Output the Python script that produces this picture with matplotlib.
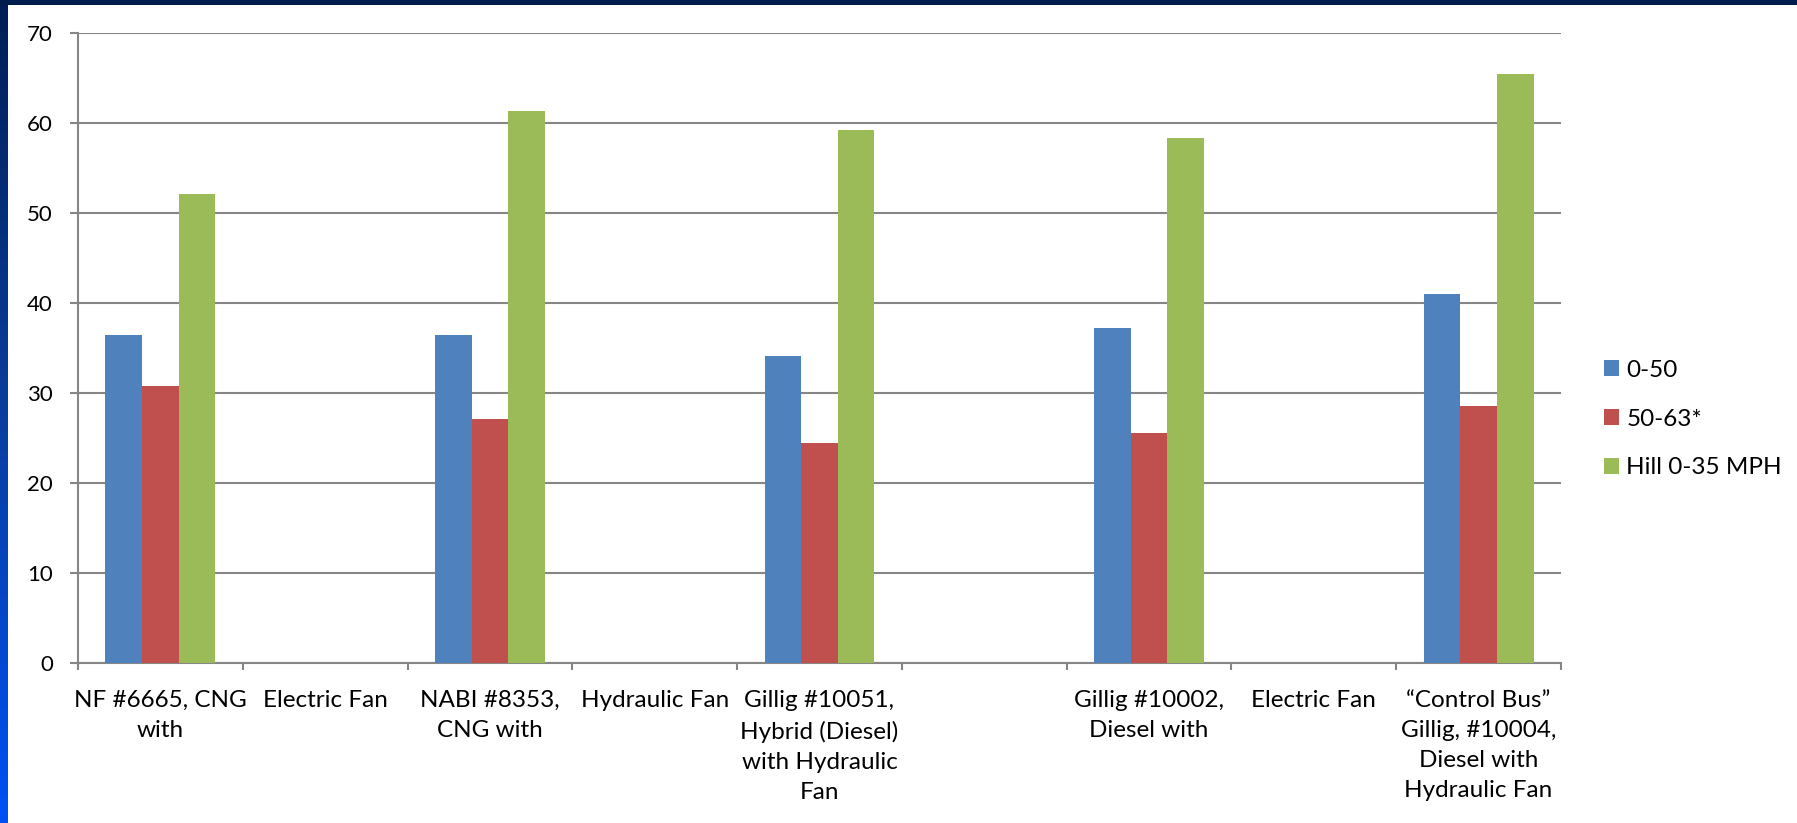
"""
Grouped bar chart: bus acceleration times by speed range for each test bus.
"""

import numpy as np
import matplotlib.pyplot as plt
from matplotlib.patches import Rectangle
from matplotlib.colors import LinearSegmentedColormap

# categories along the x axis (Excel wrapped them, blanks are empty slots)
categories = [
    "NF #6665, CNG\nwith",
    "Electric Fan",
    "NABI #8353,\nCNG with",
    "Hydraulic Fan",
    "Gillig #10051,\nHybrid (Diesel)\nwith Hydraulic\nFan",
    "",
    "Gillig #10002,\nDiesel with",
    "Electric Fan",
    "\u201cControl Bus\u201d\nGillig, #10004,\nDiesel with\nHydraulic Fan",
]

series_names = ["0-50", "50-63*", "Hill 0-35 MPH"]
vals_0_50 = [36.4, np.nan, 36.5, np.nan, 34.1, np.nan, 37.2, np.nan, 41.0]
vals_50_63 = [30.8, np.nan, 27.1, np.nan, 24.4, np.nan, 25.6, np.nan, 28.6]
vals_hill = [52.1, np.nan, 61.3, np.nan, 59.2, np.nan, 58.3, np.nan, 65.5]

colors = ["#4F81BD", "#C0504D", "#9BBB59"]
yticks = [0, 10, 20, 30, 40, 50, 60, 70]

FONT = ["Lato", "DejaVu Sans"]
FS = 17.5
FS_Y = 16
GRID = "#868686"
PX = 72 / 100  # points per pixel at dpi 100

fig = plt.figure(figsize=(17.97, 8.23), dpi=100)
fig.patch.set_facecolor("white")

# slide background: dark top strip and blue gradient strip on the left
fig.patches.append(Rectangle((0, 1 - 5 / 823), 1, 5 / 823, transform=fig.transFigure,
                             facecolor="#001C4C", edgecolor="none", zorder=0))
strip = fig.add_axes([0, 0, 8 / 1797, 1 - 5 / 823])
grad = np.linspace(0, 1, 256).reshape(-1, 1)
cmap = LinearSegmentedColormap.from_list("slide", ["#001E55", "#0A3E9E", "#0050F5"])
strip.imshow(grad, aspect="auto", cmap=cmap, extent=[0, 1, 0, 1], origin="upper")
strip.axis("off")

ax = fig.add_axes([78 / 1797, 1 - 663 / 823, (1561 - 78) / 1797, (663 - 33) / 823])

x = np.arange(len(categories))
w = 2 / 9
for i, (vals, name) in enumerate(zip([vals_0_50, vals_50_63, vals_hill], series_names)):
    ax.bar(x + (i - 1) * w, vals, width=w, color=colors[i], label=name,
           linewidth=0, zorder=3)

ax.set_xlim(-0.5, len(categories) - 0.5)
ax.set_ylim(0, 70)
ax.set_yticks(yticks)
ax.set_yticklabels([str(t) for t in yticks], fontsize=FS_Y, family=FONT)

# labels in the middle of each slot, tick marks on the slot borders
ax.set_xticks(x)
ax.set_xticklabels(categories, fontsize=FS, family=FONT, linespacing=1.53, va="top")
ax.tick_params(axis="x", which="major", length=0, pad=27 * PX)
ax.set_xticks(np.arange(-0.5, len(categories)), minor=True)
ax.tick_params(axis="x", which="minor", length=7 * PX, width=1.5, color=GRID)
ax.tick_params(axis="y", length=8 * PX, width=1.5, color=GRID, pad=17 * PX)

ax.yaxis.grid(True, color=GRID, linewidth=1.5, zorder=0)
ax.set_axisbelow(True)
for side in ["top", "right"]:
    ax.spines[side].set_visible(False)
for side in ["left", "bottom"]:
    ax.spines[side].set_color(GRID)
    ax.spines[side].set_linewidth(1.5)

leg = fig.legend(loc="center left", bbox_to_anchor=(1604 / 1797, 1 - 419 / 823),
                 frameon=False, borderpad=0, borderaxespad=0,
                 handlelength=0.62, handleheight=0.62, handletextpad=0.3,
                 labelspacing=1.15, prop={"family": FONT, "size": FS})

fig.savefig("out.png", dpi=100, facecolor="white")
